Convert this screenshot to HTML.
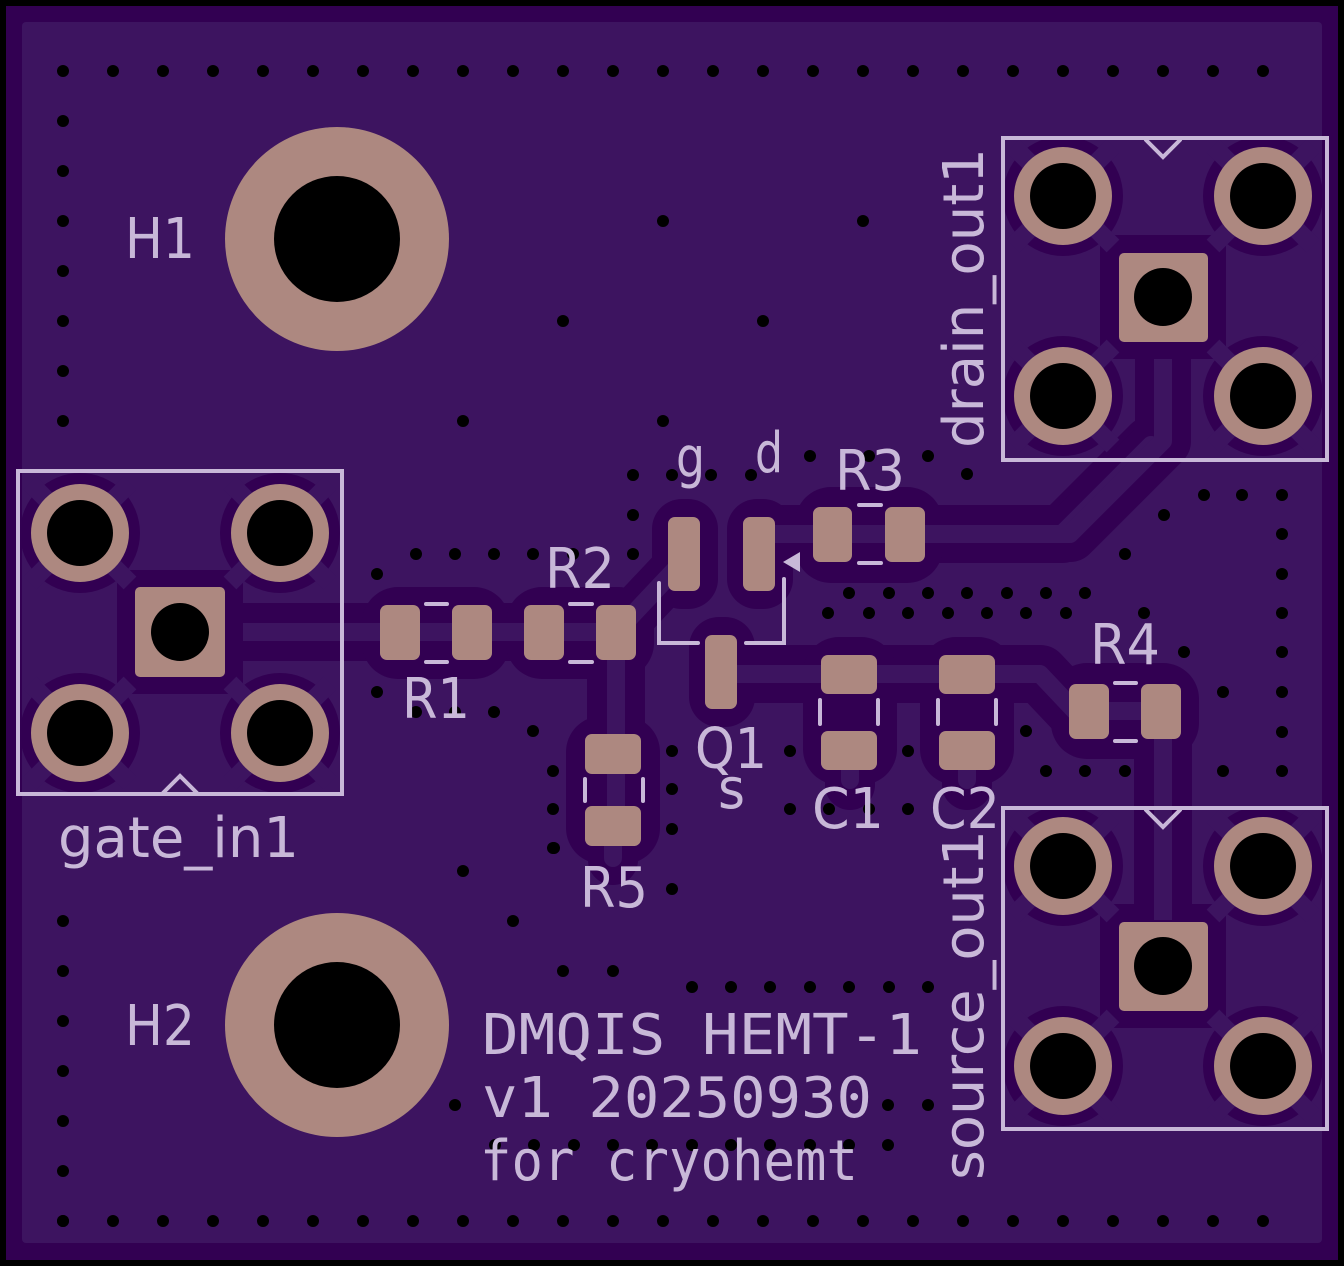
<!DOCTYPE html>
<html><head><meta charset="utf-8"><style>
html,body{margin:0;padding:0;background:#000}
svg{display:block}
.s{fill:#c8b8d8;font-family:"DejaVu Sans","Liberation Sans",sans-serif}
.m{fill:#c8b8d8;font-family:"DejaVu Sans Mono","Liberation Mono",monospace}
</style></head><body>
<svg width="1344" height="1266" viewBox="0 0 1344 1266" xmlns="http://www.w3.org/2000/svg">
<defs>
<pattern id="v" patternUnits="userSpaceOnUse" x="38" y="46" width="50" height="50">
<circle cx="25" cy="25" r="6" fill="#000"/>
</pattern>
</defs>
<rect width="1344" height="1266" fill="#000"/>
<rect x="6" y="6" width="1332" height="1254" fill="#320052"/>
<rect x="22" y="22" width="1300" height="1221" rx="4" fill="#3d1460"/>

<g fill="none" stroke="#320052" stroke-linecap="round" stroke-linejoin="round">
<path d="M180 632 H616 V826" stroke-width="58"/>
<path d="M620 628 L684 560" stroke-width="50"/>
<path d="M759 534 H1062 L1151 445" stroke-width="58"/>
<path d="M900 534 H1070 L1163 441 V300" stroke-width="56"/>
<path d="M720 674 H1040 L1075 711 H1163 V966" stroke-width="58"/>
<path d="M850 750 V785 M967 750 V785 M613 826 V860" stroke-width="50"/>
</g>
<g fill="#320052">
<rect x="362" y="587" width="148" height="92" rx="36"/>
<rect x="506" y="587" width="148" height="92" rx="36"/>
<rect x="652" y="499" width="66" height="110" rx="30"/>
<rect x="727" y="499" width="66" height="110" rx="30"/>
<rect x="689" y="617" width="66" height="110" rx="30"/>
<rect x="795" y="487" width="148" height="96" rx="36"/>
<rect x="1051" y="663" width="148" height="96" rx="36"/>
<rect x="803" y="637" width="94" height="148" rx="36"/>
<rect x="920" y="637" width="94" height="148" rx="36"/>
<rect x="566" y="716" width="94" height="148" rx="36"/>
</g>
<g fill="none" stroke="#3d1460" stroke-linecap="round" stroke-linejoin="round" stroke-width="18">
<path d="M225 632 H616 V826"/>
<path d="M620 628 L684 560"/>
<path d="M759 534 H1062 L1151 445"/>
<path d="M900 534 H1070 L1163 441 V340"/>
<path d="M720 674 H1040 L1075 711 H1163 V920"/>
<path d="M850 750 V780 M967 750 V780 M613 826 V858"/>
</g>

<g fill="url(#v)">
<rect x="38" y="46" width="1250" height="50"/>
<rect x="38" y="96" width="50" height="350"/>
<rect x="38" y="896" width="50" height="350"/>
<rect x="38" y="1196" width="1250" height="50"/>
</g>
<g fill="#000">
<circle cx="663" cy="221" r="6"/><circle cx="863" cy="221" r="6"/><circle cx="563" cy="321" r="6"/><circle cx="763" cy="321" r="6"/>
<circle cx="463" cy="421" r="6"/><circle cx="663" cy="421" r="6"/>
<circle cx="810" cy="456" r="6"/><circle cx="869" cy="456" r="6"/><circle cx="928" cy="456" r="6"/><circle cx="967" cy="474" r="6"/>
<circle cx="633" cy="475" r="6"/><circle cx="672" cy="475" r="6"/><circle cx="711" cy="475" r="6"/><circle cx="751" cy="475" r="6"/>
<circle cx="633" cy="515" r="6"/><circle cx="633" cy="554" r="6"/>
<circle cx="416" cy="554" r="6"/><circle cx="455" cy="554" r="6"/><circle cx="494" cy="554" r="6"/><circle cx="533" cy="554" r="6"/><circle cx="573" cy="554" r="6"/>
<circle cx="377" cy="574" r="6"/><circle cx="377" cy="692" r="6"/><circle cx="416" cy="712" r="6"/><circle cx="455" cy="712" r="6"/><circle cx="494" cy="712" r="6"/>
<circle cx="533" cy="731" r="6"/><circle cx="553" cy="771" r="6"/><circle cx="553" cy="809" r="6"/><circle cx="553" cy="848" r="6"/>
<circle cx="672" cy="751" r="6"/><circle cx="672" cy="789" r="6"/><circle cx="672" cy="829" r="6"/>
<circle cx="790" cy="751" r="6"/><circle cx="790" cy="809" r="6"/><circle cx="908" cy="751" r="6"/><circle cx="829" cy="809" r="6"/><circle cx="869" cy="809" r="6"/><circle cx="908" cy="809" r="6"/>
<circle cx="828" cy="613" r="6"/><circle cx="869" cy="613" r="6"/><circle cx="908" cy="613" r="6"/><circle cx="948" cy="613" r="6"/><circle cx="987" cy="613" r="6"/><circle cx="1026" cy="613" r="6"/><circle cx="1066" cy="613" r="6"/><circle cx="1144" cy="613" r="6"/>
<circle cx="849" cy="593" r="6"/><circle cx="889" cy="593" r="6"/><circle cx="928" cy="593" r="6"/><circle cx="967" cy="593" r="6"/><circle cx="1007" cy="593" r="6"/><circle cx="1046" cy="593" r="6"/><circle cx="1085" cy="593" r="6"/>
<circle cx="1204" cy="495" r="6"/><circle cx="1242" cy="495" r="6"/><circle cx="1164" cy="515" r="6"/><circle cx="1125" cy="554" r="6"/>
<circle cx="1282" cy="495" r="6"/><circle cx="1282" cy="534" r="6"/><circle cx="1282" cy="574" r="6"/><circle cx="1282" cy="613" r="6"/><circle cx="1282" cy="652" r="6"/><circle cx="1282" cy="692" r="6"/><circle cx="1282" cy="732" r="6"/><circle cx="1282" cy="771" r="6"/>
<circle cx="1184" cy="652" r="6"/><circle cx="1223" cy="692" r="6"/><circle cx="1026" cy="731" r="6"/>
<circle cx="1046" cy="771" r="6"/><circle cx="1085" cy="771" r="6"/><circle cx="1125" cy="771" r="6"/><circle cx="1223" cy="771" r="6"/>
<circle cx="463" cy="871" r="6"/><circle cx="554" cy="848" r="6"/><circle cx="672" cy="889" r="6"/><circle cx="513" cy="921" r="6"/><circle cx="563" cy="971" r="6"/><circle cx="613" cy="971" r="6"/>
<circle cx="692" cy="987" r="6"/><circle cx="731" cy="987" r="6"/><circle cx="770" cy="987" r="6"/><circle cx="810" cy="987" r="6"/><circle cx="849" cy="987" r="6"/><circle cx="889" cy="987" r="6"/><circle cx="928" cy="987" r="6"/>
<circle cx="455" cy="1105" r="6"/><circle cx="888" cy="1105" r="6"/><circle cx="928" cy="1105" r="6"/>
<circle cx="495" cy="1145" r="6"/><circle cx="534" cy="1145" r="6"/><circle cx="574" cy="1145" r="6"/><circle cx="613" cy="1145" r="6"/><circle cx="652" cy="1145" r="6"/><circle cx="692" cy="1145" r="6"/><circle cx="731" cy="1145" r="6"/><circle cx="770" cy="1145" r="6"/><circle cx="810" cy="1145" r="6"/><circle cx="849" cy="1145" r="6"/><circle cx="888" cy="1145" r="6"/>
</g>

<circle cx="337" cy="239" r="112" fill="#ad8880"/><circle cx="337" cy="239" r="63" fill="#000"/>
<circle cx="337" cy="1025" r="112" fill="#ad8880"/><circle cx="337" cy="1025" r="63" fill="#000"/>

<g>
<g fill="#320052">
<circle cx="80" cy="533" r="60"/><circle cx="280" cy="533" r="60"/><circle cx="80" cy="733" r="60"/><circle cx="280" cy="733" r="60"/>
<rect x="117" y="570" width="126" height="124"/>
</g>
<g stroke="#3d1460" stroke-width="18">
<path d="M30 483 L130 583 M130 483 L30 583 M230 483 L330 583 M330 483 L230 583 M30 683 L130 783 M130 683 L30 783 M230 683 L330 783 M330 683 L230 783"/>
</g>
<g fill="#ad8880"><circle cx="80" cy="533" r="49"/><circle cx="280" cy="533" r="49"/><circle cx="80" cy="733" r="49"/><circle cx="280" cy="733" r="49"/>
<rect x="135" y="587" width="90" height="90" rx="5"/></g>
<g fill="#000"><circle cx="80" cy="533" r="33"/><circle cx="280" cy="533" r="33"/><circle cx="80" cy="733" r="33"/><circle cx="280" cy="733" r="33"/><circle cx="180" cy="632" r="29"/></g>

<g fill="#320052">
<circle cx="1063" cy="196" r="60"/><circle cx="1263" cy="196" r="60"/><circle cx="1063" cy="396" r="60"/><circle cx="1263" cy="396" r="60"/>
<rect x="1100" y="235" width="126" height="124"/>
</g>
<g stroke="#3d1460" stroke-width="18">
<path d="M1013 146 L1113 246 M1113 146 L1013 246 M1213 146 L1313 246 M1313 146 L1213 246 M1013 346 L1113 446 M1113 346 L1013 446 M1213 346 L1313 446 M1313 346 L1213 446"/>
</g>
<g fill="#ad8880"><circle cx="1063" cy="196" r="49"/><circle cx="1263" cy="196" r="49"/><circle cx="1063" cy="396" r="49"/><circle cx="1263" cy="396" r="49"/>
<rect x="1119" y="253" width="89" height="89" rx="5"/></g>
<g fill="#000"><circle cx="1063" cy="196" r="33"/><circle cx="1263" cy="196" r="33"/><circle cx="1063" cy="396" r="33"/><circle cx="1263" cy="396" r="33"/><circle cx="1163" cy="297" r="29"/></g>

<g fill="#320052">
<circle cx="1063" cy="866" r="60"/><circle cx="1263" cy="866" r="60"/><circle cx="1063" cy="1066" r="60"/><circle cx="1263" cy="1066" r="60"/>
<rect x="1100" y="904" width="126" height="124"/>
</g>
<g stroke="#3d1460" stroke-width="18">
<path d="M1013 816 L1113 916 M1113 816 L1013 916 M1213 816 L1313 916 M1313 816 L1213 916 M1013 1016 L1113 1116 M1113 1016 L1013 1116 M1213 1016 L1313 1116 M1313 1016 L1213 1116"/>
</g>
<path d="M1163 800 V920" stroke="#320052" stroke-width="40"/>
<path d="M1163 800 V920" stroke="#3d1460" stroke-width="18"/>
<g fill="#ad8880"><circle cx="1063" cy="866" r="49"/><circle cx="1263" cy="866" r="49"/><circle cx="1063" cy="1066" r="49"/><circle cx="1263" cy="1066" r="49"/>
<rect x="1119" y="922" width="89" height="89" rx="5"/></g>
<g fill="#000"><circle cx="1063" cy="866" r="33"/><circle cx="1263" cy="866" r="33"/><circle cx="1063" cy="1066" r="33"/><circle cx="1263" cy="1066" r="33"/><circle cx="1163" cy="966" r="29"/></g>
</g>

<g fill="#ad8880">
<rect x="380" y="605" width="40" height="55" rx="7"/><rect x="452" y="605" width="40" height="55" rx="7"/>
<rect x="524" y="605" width="40" height="55" rx="7"/><rect x="596" y="605" width="40" height="55" rx="7"/>
<rect x="668" y="517" width="32" height="74" rx="7"/><rect x="743" y="517" width="32" height="74" rx="7"/>
<rect x="705" y="635" width="32" height="74" rx="7"/>
<rect x="813" y="507" width="39" height="55" rx="7"/><rect x="885" y="507" width="40" height="55" rx="7"/>
<rect x="1069" y="684" width="40" height="55" rx="7"/><rect x="1141" y="684" width="40" height="55" rx="7"/>
<rect x="821" y="655" width="56" height="39" rx="7"/><rect x="821" y="731" width="56" height="39" rx="7"/>
<rect x="939" y="655" width="56" height="39" rx="7"/><rect x="939" y="731" width="56" height="39" rx="7"/>
<rect x="585" y="734" width="56" height="40" rx="7"/><rect x="585" y="806" width="56" height="40" rx="7"/>
</g>

<g stroke="#c8b8d8" stroke-width="4" fill="none" stroke-linecap="round">
<rect x="18" y="471" width="324" height="323"/>
<path d="M163 793 L180 776 L197 793"/>
<rect x="1003" y="138" width="324" height="322"/>
<path d="M1146 140 L1163 157 L1180 140"/>
<rect x="1003" y="808" width="324" height="321"/>
<path d="M1146 810 L1163 827 L1180 810"/>
<path d="M426 604 H447 M426 662 H447 M570 604 H592 M570 662 H592"/>
<path d="M859 505 H881 M859 563 H881 M1115 683 H1136 M1115 741 H1136"/>
<path d="M820 700 V724 M878 700 V724 M938 700 V724 M996 700 V724"/>
<path d="M585 779 V801 M643 779 V801"/>
<path d="M659 583 V643 H698 M746 643 H784 V579"/>
</g>
<path d="M783 562 L800 552 L800 572 Z" fill="#c8b8d8"/>

<text class="s" x="125" y="258" font-size="56" textLength="70" lengthAdjust="spacingAndGlyphs">H1</text>
<text class="s" x="125" y="1045" font-size="56" textLength="70" lengthAdjust="spacingAndGlyphs">H2</text>
<text class="s" x="58" y="857" font-size="56" textLength="241" lengthAdjust="spacingAndGlyphs">gate_in1</text>
<text class="s" x="402" y="718" font-size="56" textLength="68" lengthAdjust="spacingAndGlyphs">R1</text>
<text class="s" x="545" y="588" font-size="56" textLength="70" lengthAdjust="spacingAndGlyphs">R2</text>
<text class="s" x="835" y="490" font-size="56" textLength="70" lengthAdjust="spacingAndGlyphs">R3</text>
<text class="s" x="1090" y="664" font-size="56" textLength="70" lengthAdjust="spacingAndGlyphs">R4</text>
<text class="s" x="580" y="907" font-size="56" textLength="68" lengthAdjust="spacingAndGlyphs">R5</text>
<text class="s" x="695" y="768" font-size="56" textLength="72" lengthAdjust="spacingAndGlyphs">Q1</text>
<text class="s" x="718" y="808" font-size="56" textLength="27" lengthAdjust="spacingAndGlyphs">s</text>
<text class="s" x="676" y="477" font-size="56" textLength="29" lengthAdjust="spacingAndGlyphs">g</text>
<text class="s" x="755" y="472" font-size="56" textLength="28" lengthAdjust="spacingAndGlyphs">d</text>
<text class="s" x="812" y="828" font-size="56" textLength="72" lengthAdjust="spacingAndGlyphs">C1</text>
<text class="s" x="930" y="828" font-size="56" textLength="70" lengthAdjust="spacingAndGlyphs">C2</text>
<text class="s" transform="translate(983,448) rotate(-90)" font-size="56" textLength="300" lengthAdjust="spacingAndGlyphs">drain_out1</text>
<text class="s" transform="translate(983,1180) rotate(-90)" font-size="56" textLength="350" lengthAdjust="spacingAndGlyphs">source_out1</text>
<text class="m" x="482" y="1054" font-size="56" textLength="440" lengthAdjust="spacingAndGlyphs">DMQIS HEMT-1</text>
<text class="m" x="482" y="1117" font-size="56" textLength="390" lengthAdjust="spacingAndGlyphs">v1 20250930</text>
<text class="m" x="480" y="1180" font-size="56" textLength="378" lengthAdjust="spacingAndGlyphs">for cryohemt</text>
</svg>
</body></html>
